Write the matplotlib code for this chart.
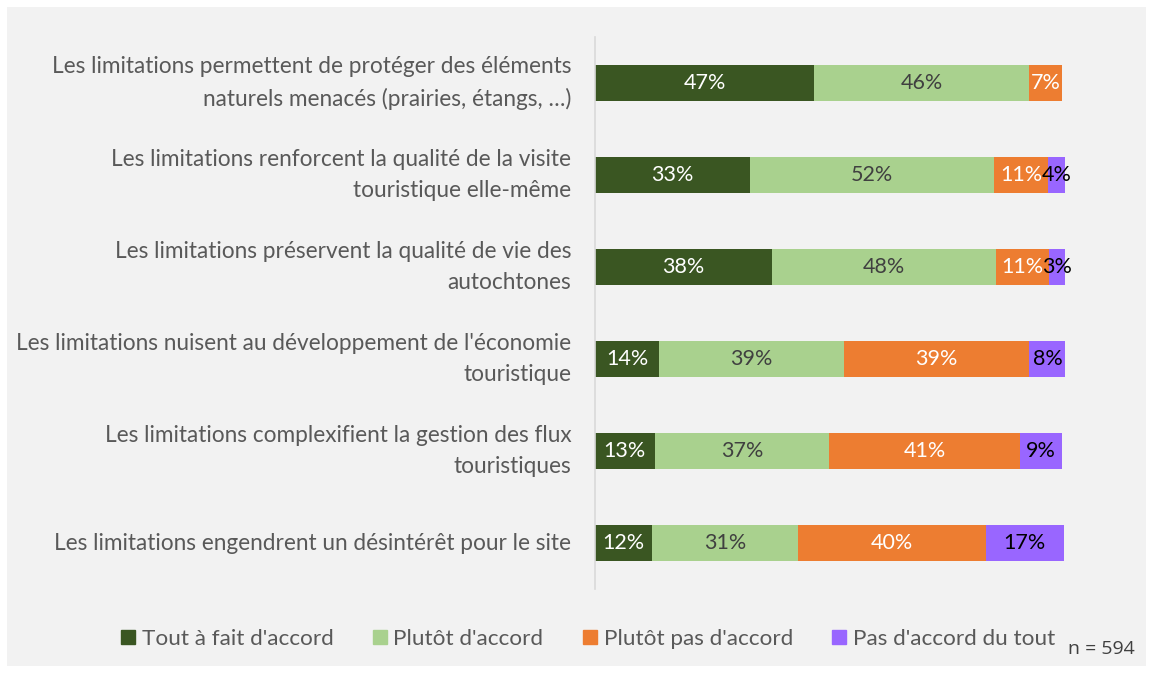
import matplotlib.pyplot as plt
import matplotlib.patches as mpatches
import matplotlib.transforms as mtransforms
import numpy as np

plt.rcParams['font.family'] = ['Lato', 'DejaVu Sans']

categories = [
    "Les limitations permettent de protéger des éléments\nnaturels menacés (prairies, étangs, …)",
    "Les limitations renforcent la qualité de la visite\ntouristique elle-même",
    "Les limitations préservent la qualité de vie des\nautochtones",
    "Les limitations nuisent au développement de l'économie\ntouristique",
    "Les limitations complexifient la gestion des flux\ntouristiques",
    "Les limitations engendrent un désintérêt pour le site",
]
series_names = ["Tout à fait d'accord", "Plutôt d'accord", "Plutôt pas d'accord", "Pas d'accord du tout"]
tout_accord = [46.6, 32.9, 37.5, 13.6, 12.6, 12.1]
plutot_accord = [45.7, 52.0, 47.7, 39.3, 37.2, 31.0]
plutot_pas = [6.9, 11.4, 11.3, 39.4, 40.6, 40.0]
pas_du_tout = [0.0, 3.6, 3.4, 7.9, 8.9, 16.6]
n_label = "n = 594"

colors = ["#3a5622", "#a9d18e", "#ed7d31", "#9966ff"]
text_colors = ["white", "#404040", "white", "black"]

fig = plt.figure(figsize=(11.52, 6.73), dpi=100)
fig.patch.set_facecolor("white")
# grey panel behind everything
fig.patches.append(mpatches.Rectangle((7 / 1152, 1 - 666 / 673), 1139 / 1152, 659 / 673,
                                      transform=fig.transFigure, facecolor="#f2f2f2",
                                      edgecolor="none", zorder=-5))

ax = fig.add_axes([595.3 / 1152, 1 - 589 / 673, 470 / 1152, 552 / 673])
ax.set_facecolor("none")
ax.set_zorder(2)

y = np.arange(len(categories))
left = np.zeros(len(categories))
data = [tout_accord, plutot_accord, plutot_pas, pas_du_tout]
for vals, col, tcol, name in zip(data, colors, text_colors, series_names):
    vals = np.array(vals)
    ax.barh(y, vals, left=left, height=0.40, color=col, label=name)
    for yi, v, l in zip(y, vals, left):
        if v > 0:
            ax.text(l + v / 2, yi, f"{round(v):d}%", ha="center", va="center",
                    color=tcol, fontsize=15.5)
    left = left + vals

ax.set_xlim(0, 100)
ax.set_ylim(len(categories) - 0.5, -0.5)
ax.set_yticks([])
ax.set_xticks([])
for s in ["top", "right", "bottom"]:
    ax.spines[s].set_visible(False)
ax.spines["left"].set_color("#d9d9d9")
ax.spines["left"].set_linewidth(1.2)

# category labels, right aligned left of the axis line
tr = mtransforms.offset_copy(ax.get_yaxis_transform(), fig=fig, x=-24, y=0, units="dots")
for yi, cat in zip(y, categories):
    ax.text(0, yi, cat, transform=tr, ha="right", va="center", fontsize=16.3,
            color="#595959", linespacing=1.6, clip_on=False)

handles = [mpatches.Patch(color=c, label=n) for c, n in zip(colors, series_names)]
leg = fig.legend(handles=handles, loc="center", bbox_to_anchor=(588 / 1152, 1 - 639 / 673),
                 ncol=4, frameon=False, fontsize=16.2, handlelength=0.62, handleheight=0.62,
                 handletextpad=0.3, columnspacing=1.75)
for t in leg.get_texts():
    t.set_color("#595959")

fig.text(1068 / 1152, 1 - 649 / 673, n_label, ha="left", va="center", fontsize=14,
         color="#404040", family=["Open Sans", "DejaVu Sans"])

fig.savefig("out.png", dpi=100)
